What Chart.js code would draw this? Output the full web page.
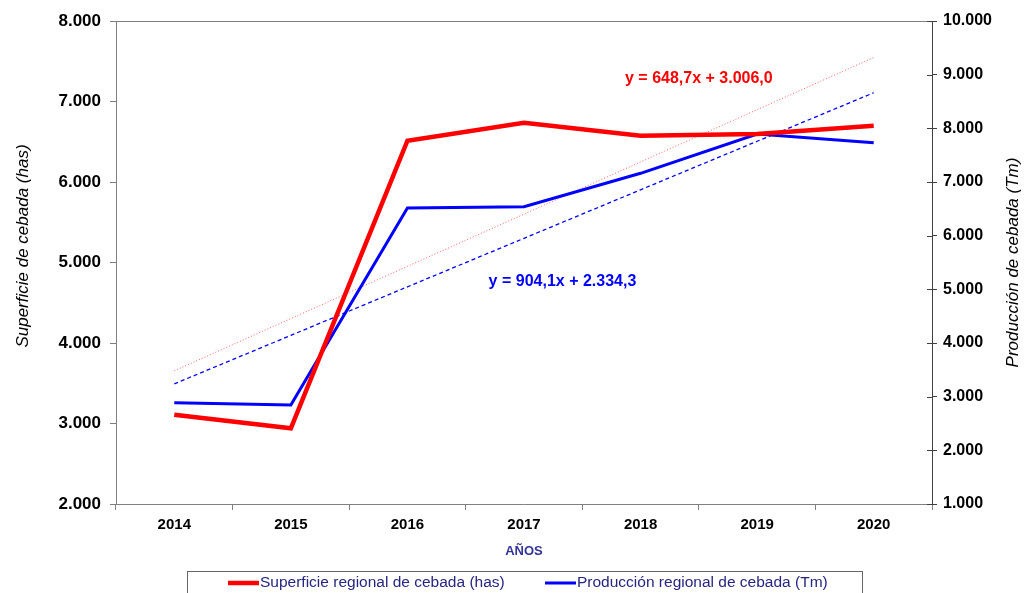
<!DOCTYPE html>
<html>
<head>
<meta charset="utf-8">
<script src="https://cdn.jsdelivr.net/npm/chart.js@4"></script>
<style>
  html, body { margin: 0; padding: 0; background: #fff; }
</style>
</head>
<body>
<canvas id="myChart" width="1026" height="593"></canvas>
<script>
// Data
const years = ['2014', '2015', '2016', '2017', '2018', '2019', '2020'];
const superficie = [3109, 2940, 6513, 6737, 6575, 6596, 6700];   // has (left axis)
const produccion = [2888, 2845, 6516, 6540, 7162, 7895, 7733];   // Tm (right axis)

// Linear trend equations printed on the chart
const trendSupSlope = 648.7, trendSupIntercept = 3006.0;
const trendProdSlope = 904.1, trendProdIntercept = 2334.3;
const eqSuperficie = 'y = 648,7x + 3.006,0';
const eqProduccion = 'y = 904,1x + 2.334,3';

const leftTitle = 'Superficie de cebada (has)';
const rightTitle = 'Producción de cebada (Tm)';

const FONT = "'Liberation Sans', Arial, sans-serif";
Chart.defaults.font.family = FONT;
Chart.defaults.color = '#000';

// format 8000 -> "8.000"
function fmt(v) {
    return String(Math.round(v)).replace(/\B(?=(\d{3})+(?!\d))/g, '.');
}

const trendSup = years.map((y, i) => trendSupSlope * (i + 1) + trendSupIntercept);
const trendProd = years.map((y, i) => trendProdSlope * (i + 1) + trendProdIntercept);

// Plot frame, axis titles, equation labels and the boxed legend at the bottom
const extras = {
    id: 'extras',
    afterDatasetsDraw(chart) {
        const { ctx, chartArea: a, scales } = chart;
        ctx.save();
        ctx.strokeStyle = '#808080';
        ctx.lineWidth = 1;
        ctx.beginPath();
        ctx.moveTo(a.left, a.top + 0.5);
        ctx.lineTo(a.right, a.top + 0.5);
        ctx.stroke();

        // right axis ticks cross the axis line
        ctx.strokeStyle = '#404040';
        ctx.beginPath();
        scales.y1.ticks.forEach(t => {
            const py = Math.round(scales.y1.getPixelForValue(t.value)) + 0.5;
            ctx.moveTo(a.right - 5, py);
            ctx.lineTo(a.right, py);
        });
        ctx.stroke();

        ctx.font = 'bold 16px ' + FONT;
        ctx.textAlign = 'center';
        ctx.textBaseline = 'middle';
        ctx.fillStyle = '#ff0000';
        ctx.fillText(eqSuperficie, scales.x.getPixelForValue(4.5), scales.y.getPixelForValue(7290));
        ctx.fillStyle = '#0000ff';
        ctx.fillText(eqProduccion, scales.x.getPixelForValue(3.33), scales.y.getPixelForValue(4760));

        // vertical axis titles, both reading bottom to top
        ctx.fillStyle = '#000';
        ctx.font = 'italic 17px ' + FONT;
        ctx.save();
        ctx.translate(23, 246);
        ctx.rotate(-Math.PI / 2);
        ctx.fillText(leftTitle, 0, 0);
        ctx.restore();
        ctx.save();
        ctx.translate(1013, (a.top + a.bottom) / 2);
        ctx.rotate(-Math.PI / 2);
        ctx.fillText(rightTitle, 0, 0);
        ctx.restore();
        ctx.restore();
    },
    afterDraw(chart) {
        const { ctx } = chart;
        ctx.save();
        ctx.strokeStyle = '#666';
        ctx.lineWidth = 1;
        ctx.strokeRect(187.5, 571.5, 675, 40);

        const items = [
            { x: 228, text: chart.data.datasets[0].label, color: '#ff0000', w: 4.5 },
            { x: 545, text: chart.data.datasets[1].label, color: '#0000ff', w: 3 }
        ];
        ctx.font = '15.5px ' + FONT;
        ctx.textBaseline = 'middle';
        ctx.textAlign = 'left';
        items.forEach(it => {
            ctx.strokeStyle = it.color;
            ctx.lineWidth = it.w;
            ctx.beginPath();
            ctx.moveTo(it.x, 583);
            ctx.lineTo(it.x + 31, 583);
            ctx.stroke();
            ctx.fillStyle = '#262680';
            ctx.fillText(it.text, it.x + 32, 583);
        });
        ctx.restore();
    }
};

const ctx = document.getElementById('myChart').getContext('2d');
const myChart = new Chart(ctx, {
    type: 'line',
    data: {
        labels: years,
        datasets: [{
            label: 'Superficie regional de cebada (has)',
            data: superficie,
            yAxisID: 'y',
            borderColor: '#ff0000',
            borderWidth: 4.5,
            pointRadius: 0,
            tension: 0
        }, {
            label: 'Producción regional de cebada (Tm)',
            data: produccion,
            yAxisID: 'y1',
            borderColor: '#0000ff',
            borderWidth: 3,
            pointRadius: 0,
            tension: 0
        }, {
            label: 'trend superficie',
            data: trendSup,
            yAxisID: 'y',
            borderColor: 'rgba(255, 60, 60, 0.8)',
            borderWidth: 1,
            borderDash: [1, 2],
            pointRadius: 0
        }, {
            label: 'trend produccion',
            data: trendProd,
            yAxisID: 'y1',
            borderColor: '#0000ff',
            borderWidth: 1.3,
            borderDash: [4, 3],
            pointRadius: 0
        }]
    },
    options: {
        responsive: false,
        animation: false,
        devicePixelRatio: 1,
        layout: { padding: { top: 21, left: 0, right: 0, bottom: 0 } },
        plugins: {
            legend: { display: false },
            tooltip: { enabled: false }
        },
        scales: {
            x: {
                offset: true,
                afterFit: (scale) => { scale.height = 89; },
                grid: { offset: true, drawOnChartArea: false, tickLength: 6, color: '#808080' },
                border: { color: '#808080' },
                ticks: { font: { size: 15, weight: 'bold' }, padding: 6, maxRotation: 0 },
                title: {
                    display: true,
                    text: 'AÑOS',
                    color: '#333399',
                    font: { size: 13, weight: 'bold' },
                    padding: { top: 0, bottom: 34 }
                }
            },
            y: {
                position: 'left',
                min: 2000,
                max: 8000,
                afterFit: (scale) => { scale.width = 116; },
                grid: { drawOnChartArea: false, tickLength: 6, color: '#808080' },
                border: { color: '#808080' },
                ticks: { stepSize: 1000, font: { size: 17, weight: 'bold' }, padding: 9, callback: (v) => fmt(v) },
                title: { display: false }
            },
            y1: {
                position: 'right',
                min: 1000,
                max: 10000,
                afterFit: (scale) => { scale.width = 94; },
                grid: { drawOnChartArea: false, tickLength: 5, color: '#404040' },
                border: { color: '#404040' },
                ticks: { stepSize: 1000, font: { size: 16, weight: 'bold' }, padding: 6, callback: (v) => fmt(v) },
                title: { display: false }
            }
        }
    },
    plugins: [extras]
});
</script>
</body>
</html>
